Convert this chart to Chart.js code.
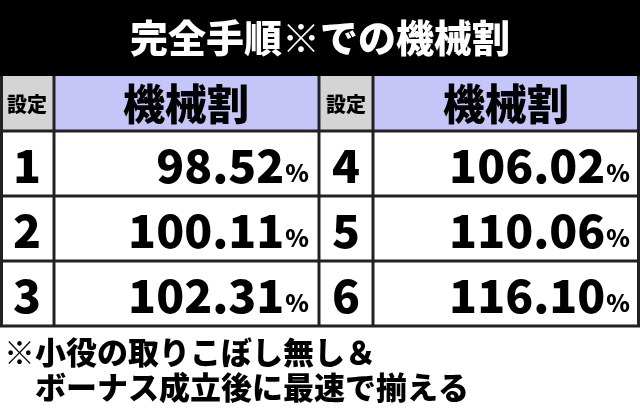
<!DOCTYPE html><html><head><meta charset="utf-8">
<script src="https://cdn.jsdelivr.net/npm/chart.js@4"></script>
<style>html,body{margin:0;padding:0;background:#fff}</style></head><body>
<canvas id="c" width="640" height="414"></canvas>
<script>
const title = "完全手順※での機械割";
const headerSetting = "設定";
const headerRate = "機械割";
const settingsLeft = ["1","2","3"];
const ratesLeft = ["98.52","100.11","102.31"];
const settingsRight = ["4","5","6"];
const ratesRight = ["106.02","110.06","116.10"];
const footnotes = ["※小役の取りこぼし無し＆","　ボーナス成立後に最速で揃える"];
const F = '"Noto Sans CJK JP", sans-serif';
const tablePlugin = {
  id:'table',
  afterDraw(chart){
    const ctx = chart.ctx;
    ctx.save();
    ctx.fillStyle='#fff';ctx.fillRect(0,0,640,414);
    ctx.fillStyle='#000';ctx.fillRect(0,0,640,76);
    ctx.fillStyle='#fff';ctx.font='900 38px '+F;ctx.textAlign='center';ctx.textBaseline='middle';
    ctx.fillText(title,320,38);
    const cols=[[0,54],[54,319],[319,373],[373,640]];
    const rows=[[76,131],[131,196],[196,261],[261,326]];
    [[0,'#d4d4d4'],[1,'#c5c5f8'],[2,'#d4d4d4'],[3,'#c5c5f8']].forEach(([i,c])=>{
      ctx.fillStyle=c;ctx.fillRect(cols[i][0],rows[0][0],cols[i][1]-cols[i][0],rows[0][1]-rows[0][0]);
    });
    ctx.fillStyle='#000';
    ctx.font='900 20px '+F;
    ctx.fillText(headerSetting,27,104);ctx.fillText(headerSetting,346,104);
    ctx.font='900 42px '+F;
    ctx.fillText(headerRate,186,104);ctx.fillText(headerRate,506,104);
    const draw=(sets,rates,cs,cv)=>{
      for(let r=0;r<3;r++){
        const y=(rows[r+1][0]+rows[r+1][1])/2+2;
        ctx.textAlign='center';ctx.font='900 46px '+F;
        ctx.fillText(sets[r],(cols[cs][0]+cols[cs][1])/2,y);
        ctx.textAlign='right';ctx.font='900 24px '+F;
        const pr=cols[cv][1]-10;
        ctx.fillText('%',pr,y+7);
        const pw=ctx.measureText('%').width;
        ctx.font='900 46px '+F;
        ctx.fillText(rates[r],pr-pw-1,y);
      }
    };
    draw(settingsLeft,ratesLeft,0,1);draw(settingsRight,ratesRight,2,3);
    ctx.strokeStyle='#222';ctx.lineWidth=3;
    rows.forEach(r=>{ctx.beginPath();ctx.moveTo(0,r[1]);ctx.lineTo(640,r[1]);ctx.stroke();});
    [54,319,373].forEach(x=>{ctx.beginPath();ctx.moveTo(x,76);ctx.lineTo(x,326);ctx.stroke();});
    ctx.beginPath();ctx.moveTo(1.5,76);ctx.lineTo(1.5,326);ctx.moveTo(638.5,76);ctx.lineTo(638.5,326);ctx.stroke();
    ctx.textAlign='left';ctx.font='900 31px '+F;
    ctx.fillText(footnotes[0],4,352);ctx.fillText(footnotes[1],4,387);
    ctx.restore();
  }
};
new Chart(document.getElementById('c'),{type:'bar',data:{labels:[...settingsLeft,...settingsRight],datasets:[{data:[...ratesLeft,...ratesRight].map(Number),backgroundColor:'rgba(0,0,0,0)'}]},
options:{responsive:false,animation:false,devicePixelRatio:1,plugins:{legend:{display:false},tooltip:{enabled:false}},scales:{x:{display:false},y:{display:false}}},plugins:[tablePlugin]});
</script></body></html>
